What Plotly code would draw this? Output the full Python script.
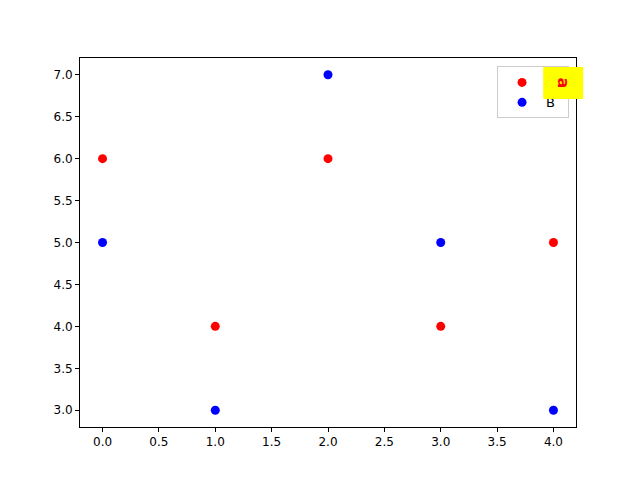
import plotly.graph_objects as go

x_vals = [0, 1, 2, 3, 4]
series_a = [6, 4, 6, 4, 5]
series_b = [5, 3, 7, 5, 3]
x_ticks = [0.0, 0.5, 1.0, 1.5, 2.0, 2.5, 3.0, 3.5, 4.0]
y_ticks = [3.0, 3.5, 4.0, 4.5, 5.0, 5.5, 6.0, 6.5, 7.0]

fig = go.Figure()
fig.add_trace(go.Scatter(x=x_vals, y=series_a, mode="markers", name="\u00a0" * 4,
                         marker=dict(color="red", size=9)))
fig.add_trace(go.Scatter(x=x_vals, y=series_b, mode="markers", name="B",
                         marker=dict(color="blue", size=9)))

axis_common = dict(showgrid=False, zeroline=False, showline=True, linecolor="black",
                   linewidth=1, mirror=True, ticks="outside", ticklen=4,
                   tickcolor="black", tickfont=dict(family="DejaVu Sans", size=12, color="black"))

fig.update_layout(
    width=640, height=480,
    paper_bgcolor="white", plot_bgcolor="white",
    margin=dict(l=80, r=64, t=58, b=53),
    xaxis=dict(range=[-0.2, 4.2], tickvals=x_ticks,
               ticktext=[f"{v:.1f}" for v in x_ticks], **axis_common),
    yaxis=dict(range=[2.8, 7.2], tickvals=y_ticks,
               ticktext=[f"{v:.1f}" for v in y_ticks], **axis_common),
    legend=dict(x=0.986, y=0.977, xanchor="right", yanchor="top",
                bordercolor="#cccccc", borderwidth=1, bgcolor="white",
                font=dict(family="DejaVu Sans", size=13, color="black"),
                itemwidth=38, tracegroupgap=2),
    showlegend=True,
    annotations=[dict(
        x=0.975, y=0.932, xref="paper", yref="paper",
        text="<b>a</b>", textangle=90, showarrow=False,
        font=dict(family="DejaVu Sans", size=16, color="red"),
        bgcolor="yellow", borderpad=10, xanchor="center", yanchor="middle")],
)

fig.write_html("out.html", config={"displayModeBar": False},
               post_script="document.body.style.margin='0';")
